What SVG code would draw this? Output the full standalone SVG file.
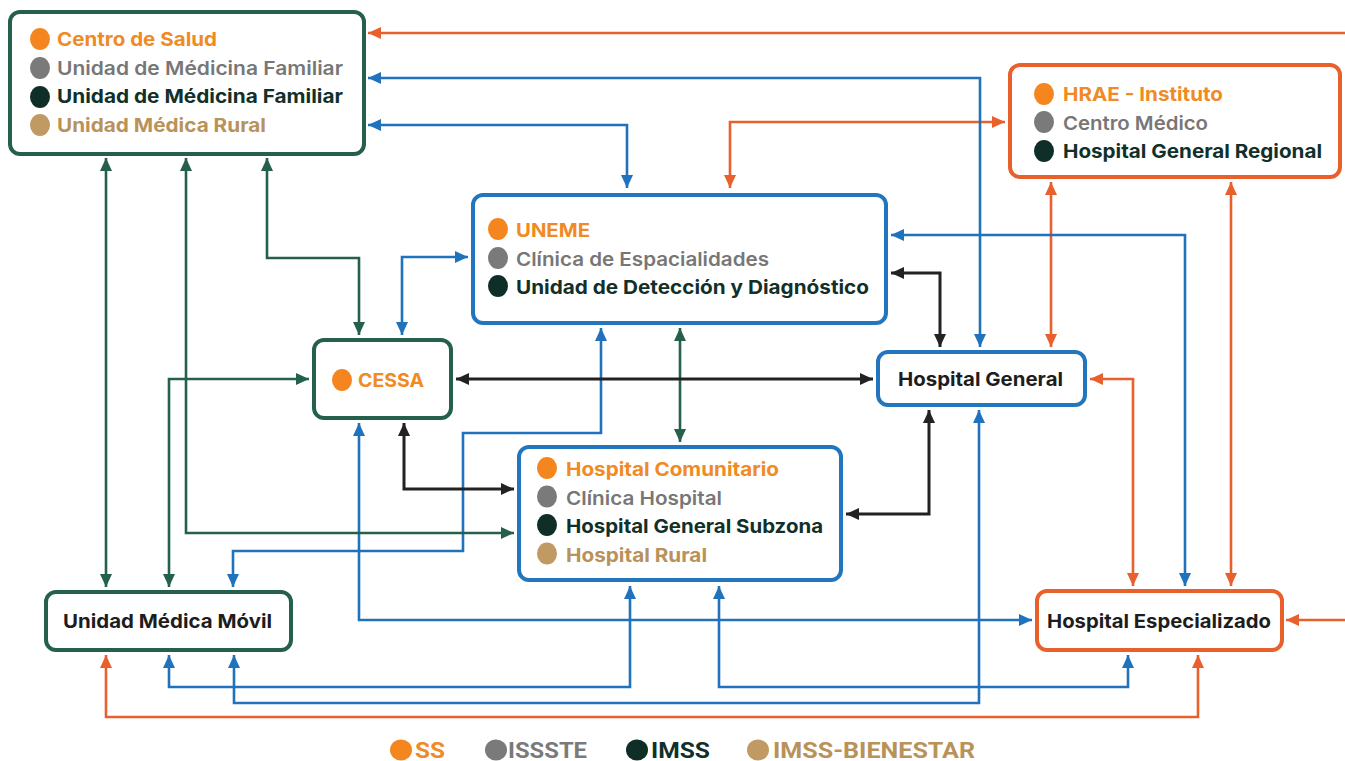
<svg xmlns="http://www.w3.org/2000/svg" width="1345" height="761" viewBox="0 0 1345 761">
<defs>
<style>
.bx{fill:#fff;stroke-width:4}
.bg{stroke:#24604b}.bb{stroke:#2176bd}.bo{stroke:#e8602c}
.t{font-family:Inter,"Open Sans","Liberation Sans",sans-serif;font-size:19px;font-weight:700}
.lg{font-family:Roboto,"Liberation Sans",sans-serif;font-size:22px;font-weight:700}
.to{fill:#f08a24}.tg{fill:#777;font-weight:600}.td{fill:#11302a}.tt{fill:#b9925a}.tk{fill:#1d1d1d}
.co{fill:#f5861f}.cg{fill:#7a7a7a}.cd{fill:#0f2e28}.ct{fill:#c09a62}
.l{fill:none;stroke-width:2.6}
.lo{stroke:#e8602c;marker-start:url(#aO);marker-end:url(#aO)}
.lb{stroke:#1f72bb;marker-start:url(#aB);marker-end:url(#aB)}
.lgr{stroke:#24604b;marker-start:url(#aG);marker-end:url(#aG)}
.lk{stroke:#222;stroke-width:3;marker-start:url(#aK);marker-end:url(#aK)}
.e{marker-start:none}
</style>
<marker id="aO" viewBox="0 0 13 12" refX="13" refY="6" markerWidth="13" markerHeight="12" markerUnits="userSpaceOnUse" orient="auto-start-reverse"><path d="M0,0 L13,6 L0,12 z" fill="#e8602c"/></marker>
<marker id="aB" viewBox="0 0 13 12" refX="13" refY="6" markerWidth="13" markerHeight="12" markerUnits="userSpaceOnUse" orient="auto-start-reverse"><path d="M0,0 L13,6 L0,12 z" fill="#1f72bb"/></marker>
<marker id="aG" viewBox="0 0 13 12" refX="13" refY="6" markerWidth="13" markerHeight="12" markerUnits="userSpaceOnUse" orient="auto-start-reverse"><path d="M0,0 L13,6 L0,12 z" fill="#24604b"/></marker>
<marker id="aK" viewBox="0 0 13 12" refX="13" refY="6" markerWidth="13" markerHeight="12" markerUnits="userSpaceOnUse" orient="auto-start-reverse"><path d="M0,0 L13,6 L0,12 z" fill="#222"/></marker>
</defs>
<rect width="1345" height="761" fill="#fff"/>

<g id="connectors">
<path class="l lo e" d="M1345,33 H368"/>
<path class="l lo" d="M730,188 V122 H1005"/>
<path class="l lo" d="M1051,182 V347"/>
<path class="l lo" d="M1231,182 V586"/>
<path class="l lo" d="M1090,379 H1133 V586"/>
<path class="l lo e" d="M1345,620 H1286"/>
<path class="l lo" d="M106,655 V717 H1198 V655"/>

<path class="l lb" d="M368,78 H980 V347"/>
<path class="l lb" d="M368,125 H627 V188"/>
<path class="l lb" d="M891,235 H1185 V586"/>
<path class="l lb" d="M402,335 V257 H468"/>
<path class="l lb" d="M233,587 V551 H463 V433 H601 V328"/>
<path class="l lb" d="M359,423 V620 H1032"/>
<path class="l lb" d="M169,655 V687 H630 V586"/>
<path class="l lb" d="M719,586 V687 H1128 V655"/>
<path class="l lb" d="M234,655 V703 H979 V410"/>

<path class="l lgr" d="M106,158 V587"/>
<path class="l lgr" d="M186,158 V533 H514"/>
<path class="l lgr" d="M267,158 V258 H359 V335"/>
<path class="l lgr" d="M169,587 V379 H309"/>
<path class="l lgr" d="M680,328 V442"/>

<path class="l lk" d="M456,379 H873"/>
<path class="l lk" d="M891,273 H940 V347"/>
<path class="l lk" d="M404,423 V489 H514"/>
<path class="l lk" d="M929,410 V514 H846"/>
</g>

<g id="node-primer-nivel">
<rect class="bx bg" x="10" y="12" width="354" height="142" rx="10"/>
<ellipse class="co" cx="40" cy="39" rx="10" ry="11"/>
<ellipse class="cg" cx="40" cy="68" rx="10" ry="11"/>
<ellipse class="cd" cx="40" cy="97" rx="10" ry="11"/>
<ellipse class="ct" cx="40" cy="125" rx="10" ry="11"/>
<text class="t to" x="57" y="46" textLength="160" lengthAdjust="spacingAndGlyphs">Centro de Salud</text>
<text class="t tg" x="57" y="74.5" textLength="286" lengthAdjust="spacingAndGlyphs">Unidad de Médicina Familiar</text>
<text class="t td" x="57" y="103" textLength="286" lengthAdjust="spacingAndGlyphs">Unidad de Médicina Familiar</text>
<text class="t tt" x="57" y="132" textLength="209" lengthAdjust="spacingAndGlyphs">Unidad Médica Rural</text>
</g>

<g id="node-hrae">
<rect class="bx bo" x="1010" y="65" width="330" height="112" rx="10"/>
<ellipse class="co" cx="1044" cy="94" rx="10" ry="11"/>
<ellipse class="cg" cx="1044" cy="122" rx="10" ry="11"/>
<ellipse class="cd" cx="1044" cy="151" rx="10" ry="11"/>
<text class="t to" x="1063" y="101" textLength="160" lengthAdjust="spacingAndGlyphs">HRAE - Instituto</text>
<text class="t tg" x="1063" y="129.5" textLength="145" lengthAdjust="spacingAndGlyphs">Centro Médico</text>
<text class="t td" x="1063" y="157.5" textLength="259" lengthAdjust="spacingAndGlyphs">Hospital General Regional</text>
</g>

<g id="node-uneme">
<rect class="bx bb" x="473" y="195" width="413" height="128" rx="10"/>
<ellipse class="co" cx="498" cy="229" rx="10" ry="11"/>
<ellipse class="cg" cx="498" cy="258" rx="10" ry="11"/>
<ellipse class="cd" cx="498" cy="286" rx="10" ry="11"/>
<text class="t to" x="516" y="236.5" textLength="74" lengthAdjust="spacingAndGlyphs">UNEME</text>
<text class="t tg" x="516" y="265.5" textLength="253" lengthAdjust="spacingAndGlyphs">Clínica de Espacialidades</text>
<text class="t td" x="516" y="293.5" textLength="353" lengthAdjust="spacingAndGlyphs">Unidad de Detección y Diagnóstico</text>
</g>

<g id="node-cessa">
<rect class="bx bg" x="314" y="340" width="137" height="78" rx="10"/>
<ellipse class="co" cx="342" cy="380" rx="10" ry="11"/>
<text class="t to" x="358" y="387" textLength="66" lengthAdjust="spacingAndGlyphs">CESSA</text>
</g>

<g id="node-hospital-general">
<rect class="bx bb" x="878" y="352" width="207" height="53" rx="10"/>
<text class="t tk" x="898" y="386" textLength="165" lengthAdjust="spacingAndGlyphs">Hospital General</text>
</g>

<g id="node-hospital-comunitario">
<rect class="bx bb" x="519" y="447" width="322" height="133" rx="10"/>
<ellipse class="co" cx="547" cy="468" rx="10" ry="11"/>
<ellipse class="cg" cx="547" cy="496.5" rx="10" ry="11"/>
<ellipse class="cd" cx="547" cy="525" rx="10" ry="11"/>
<ellipse class="ct" cx="547" cy="553.5" rx="10" ry="11"/>
<text class="t to" x="566" y="475.5" textLength="213" lengthAdjust="spacingAndGlyphs">Hospital Comunitario</text>
<text class="t tg" x="566" y="504.5" textLength="156" lengthAdjust="spacingAndGlyphs">Clínica Hospital</text>
<text class="t td" x="566" y="533" textLength="257" lengthAdjust="spacingAndGlyphs">Hospital General Subzona</text>
<text class="t tt" x="566" y="561.5" textLength="141" lengthAdjust="spacingAndGlyphs">Hospital Rural</text>
</g>

<g id="node-unidad-medica-movil">
<rect class="bx bg" x="46" y="592" width="245" height="58" rx="10"/>
<text class="t tk" x="63" y="628" textLength="209" lengthAdjust="spacingAndGlyphs">Unidad Médica Móvil</text>
</g>

<g id="node-hospital-especializado">
<rect class="bx bo" x="1037" y="591" width="245" height="59" rx="10"/>
<text class="t tk" x="1047" y="628" textLength="224" lengthAdjust="spacingAndGlyphs">Hospital Especializado</text>
</g>

<g id="legend">
<ellipse class="co" cx="401" cy="750" rx="11" ry="10.5"/>
<text class="lg to" x="415" y="757.5" textLength="30" lengthAdjust="spacingAndGlyphs">SS</text>
<ellipse class="cg" cx="496" cy="750" rx="11" ry="10.5"/>
<text class="lg" fill="#7a7a7a" x="508" y="757.5" textLength="79" lengthAdjust="spacingAndGlyphs">ISSSTE</text>
<ellipse class="cd" cx="637" cy="750" rx="11" ry="10.5"/>
<text class="lg td" x="651" y="757.5" textLength="59" lengthAdjust="spacingAndGlyphs">IMSS</text>
<ellipse class="ct" cx="758" cy="750" rx="11" ry="10.5"/>
<text class="lg tt" x="773" y="757.5" textLength="202" lengthAdjust="spacingAndGlyphs">IMSS-BIENESTAR</text>
</g>
</svg>
